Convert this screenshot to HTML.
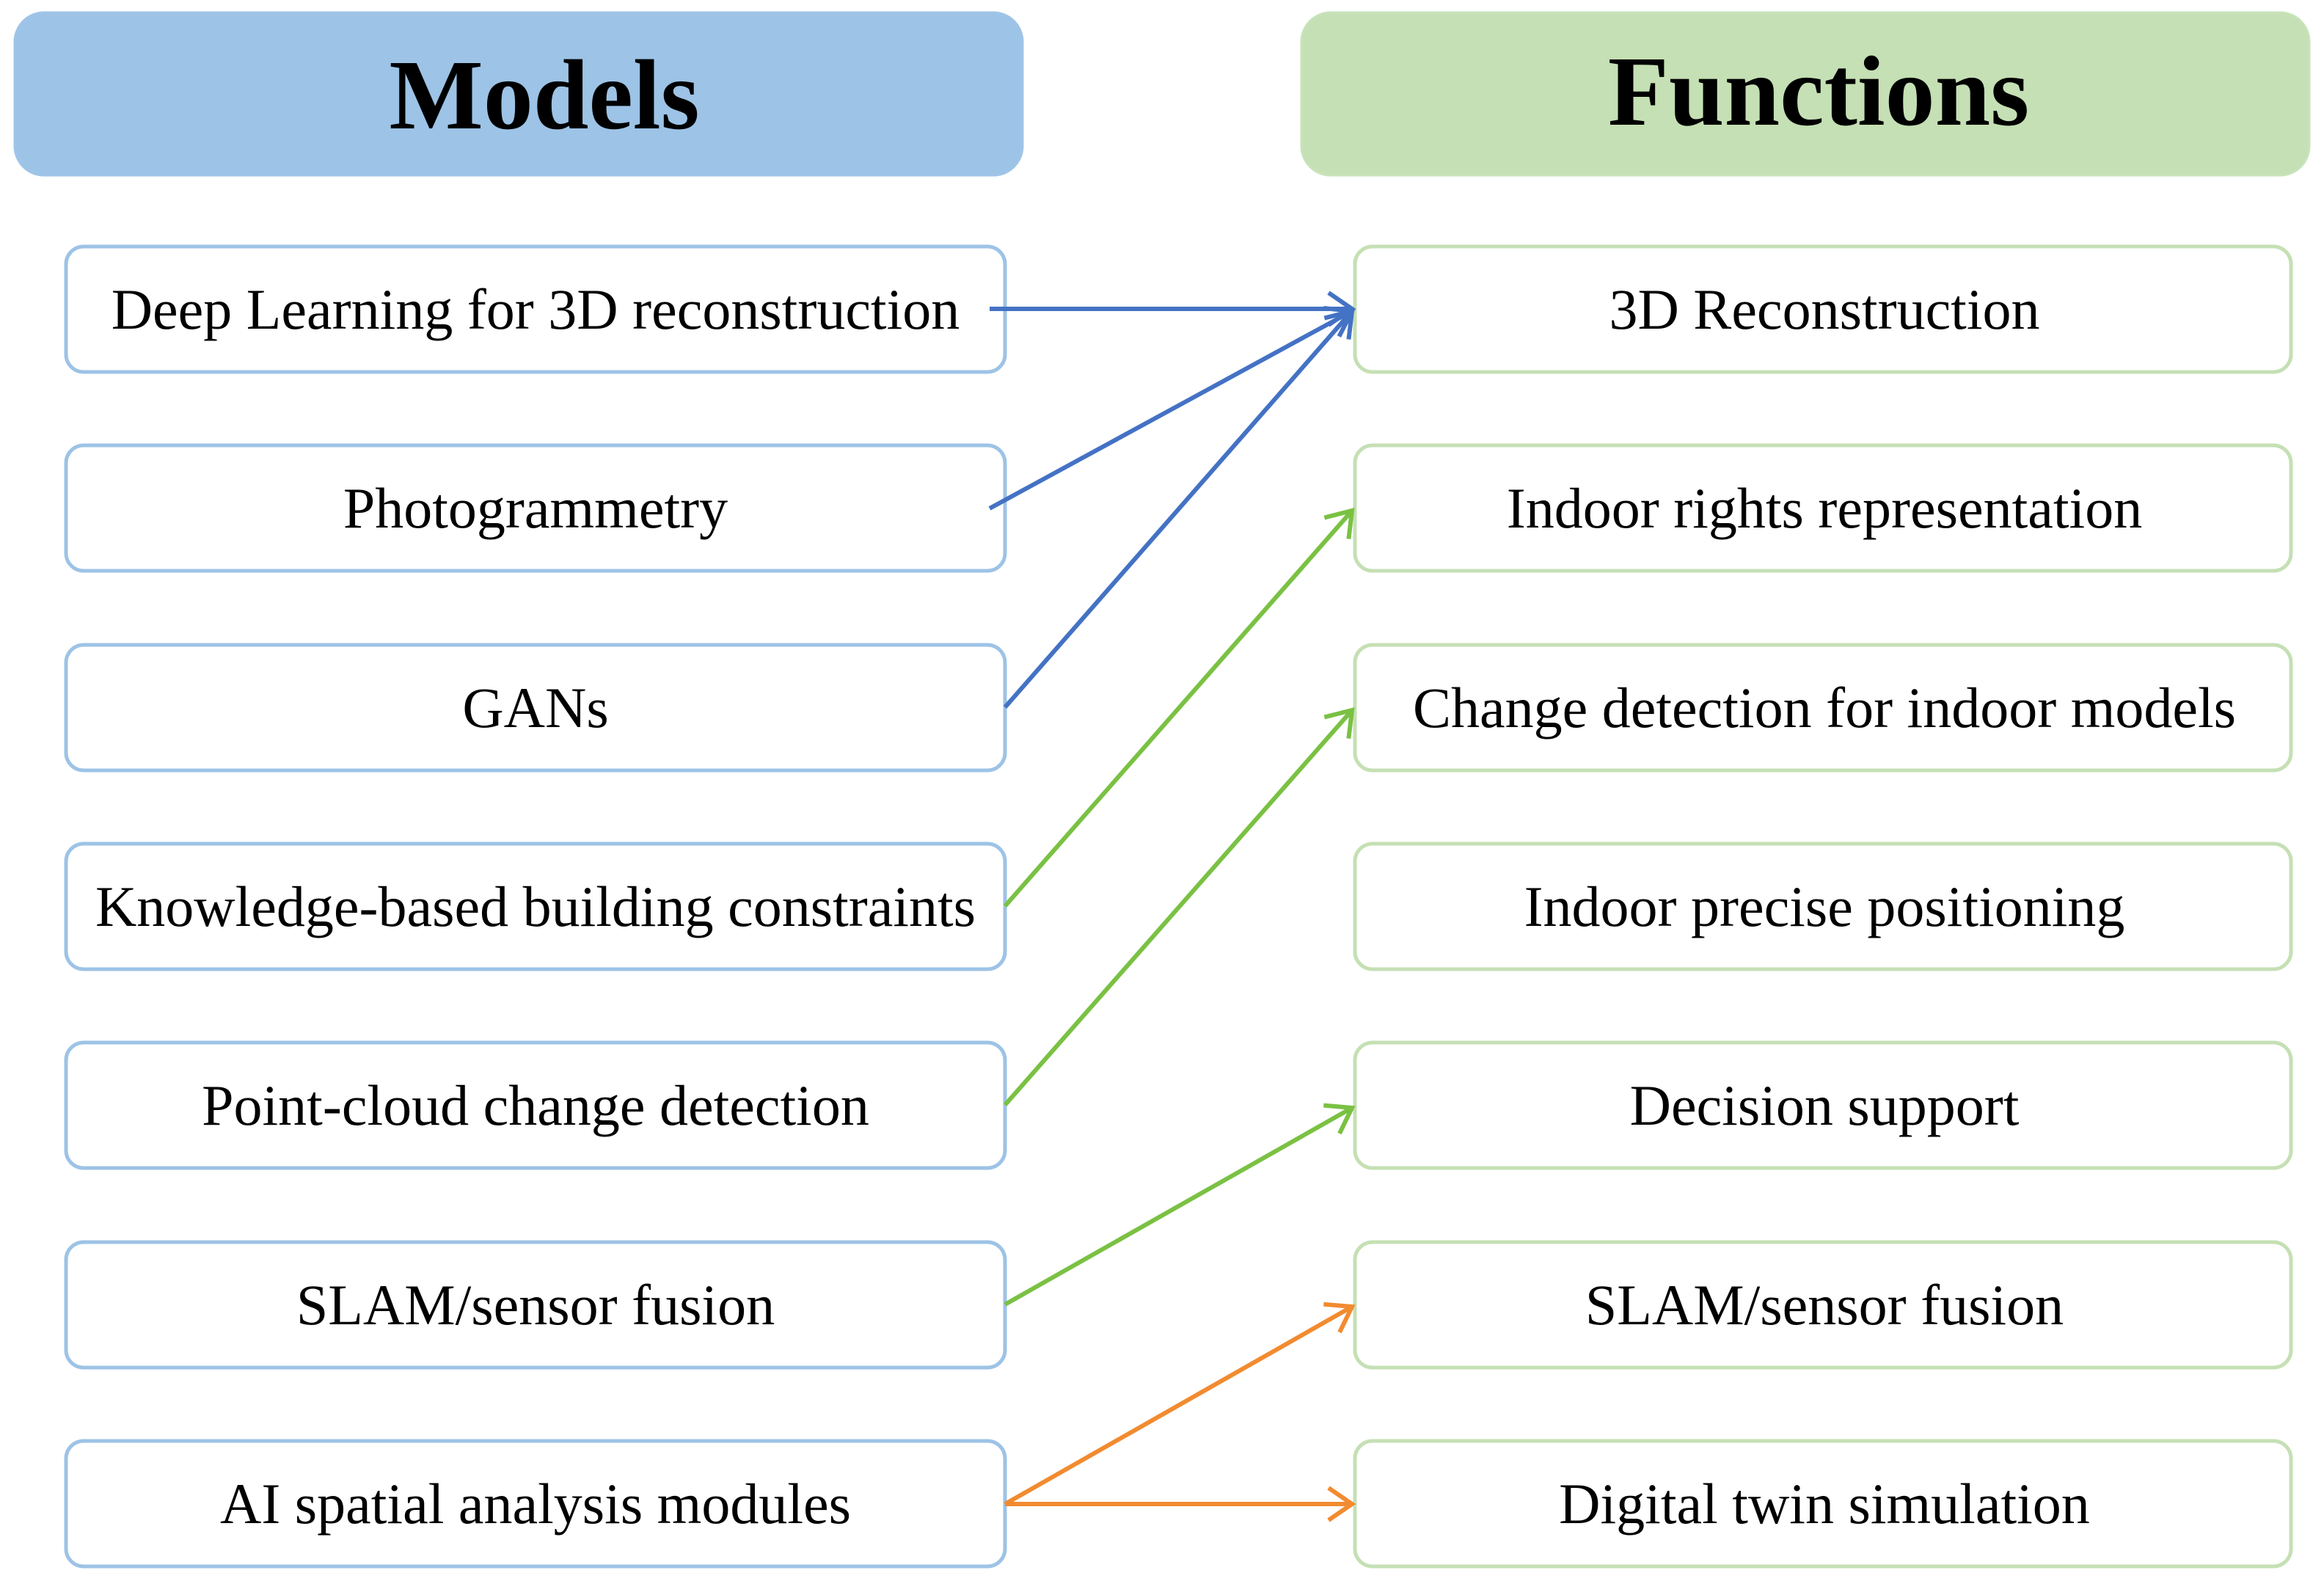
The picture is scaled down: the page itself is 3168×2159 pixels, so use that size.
<!DOCTYPE html>
<html><head><meta charset="utf-8"><style>
html,body{margin:0;padding:0;background:#fff;}
svg{display:block;}
</style></head><body>
<svg width="3168" height="2159" viewBox="0 0 3168 2159" xmlns="http://www.w3.org/2000/svg" font-family="'Liberation Serif', serif">
<defs>
<marker id="ab" markerWidth="12" markerHeight="12" refX="10" refY="6" orient="auto" markerUnits="userSpaceOnUse" viewBox="0 0 12 12" style="overflow:visible"><path d="M-22,-16 L10,6 L-22,28" fill="none" stroke="#4472c4" stroke-width="6"/></marker>
<marker id="ag" markerWidth="12" markerHeight="12" refX="10" refY="6" orient="auto" markerUnits="userSpaceOnUse" viewBox="0 0 12 12" style="overflow:visible"><path d="M-22,-16 L10,6 L-22,28" fill="none" stroke="#7ac143" stroke-width="6"/></marker>
<marker id="ao" markerWidth="12" markerHeight="12" refX="10" refY="6" orient="auto" markerUnits="userSpaceOnUse" viewBox="0 0 12 12" style="overflow:visible"><path d="M-22,-16 L10,6 L-22,28" fill="none" stroke="#f28b30" stroke-width="6"/></marker>
</defs>
<rect x="20" y="17" width="1374" height="222" rx="40" fill="#9dc3e6" stroke="#9fc4e8" stroke-width="3"/>
<text x="742" y="175" text-anchor="middle" font-size="136" font-weight="bold">Models</text>
<rect x="1774" y="17" width="1374" height="222" rx="40" fill="#c5e0b4" stroke="#c8e3b8" stroke-width="3"/>
<text x="2479" y="170" text-anchor="middle" font-size="136" font-weight="bold">Functions</text>
<g fill="#fff" stroke="#9dc3e6" stroke-width="5">
<rect x="90" y="336" width="1280" height="171" rx="24"/>
<rect x="90" y="607" width="1280" height="171" rx="24"/>
<rect x="90" y="879" width="1280" height="171" rx="24"/>
<rect x="90" y="1150" width="1280" height="171" rx="24"/>
<rect x="90" y="1421" width="1280" height="171" rx="24"/>
<rect x="90" y="1693" width="1280" height="171" rx="24"/>
<rect x="90" y="1964" width="1280" height="171" rx="24"/>
</g>
<g fill="#fff" stroke="#c5e0b4" stroke-width="5">
<rect x="1847" y="336" width="1276" height="171" rx="24"/>
<rect x="1847" y="607" width="1276" height="171" rx="24"/>
<rect x="1847" y="879" width="1276" height="171" rx="24"/>
<rect x="1847" y="1150" width="1276" height="171" rx="24"/>
<rect x="1847" y="1421" width="1276" height="171" rx="24"/>
<rect x="1847" y="1693" width="1276" height="171" rx="24"/>
<rect x="1847" y="1964" width="1276" height="171" rx="24"/>
</g>
<g font-size="78" text-anchor="middle" fill="#000">
<text x="730" y="448">Deep Learning for 3D reconstruction</text>
<text x="730" y="719">Photogrammetry</text>
<text x="730" y="991">GANs</text>
<text x="730" y="1262">Knowledge-based building constraints</text>
<text x="730" y="1533">Point-cloud change detection</text>
<text x="730" y="1805">SLAM/sensor fusion</text>
<text x="730" y="2076">AI spatial analysis modules</text>
<text x="2487" y="448">3D Reconstruction</text>
<text x="2487" y="719">Indoor rights representation</text>
<text x="2487" y="991">Change detection for indoor models</text>
<text x="2487" y="1262">Indoor precise positioning</text>
<text x="2487" y="1533">Decision support</text>
<text x="2487" y="1805">SLAM/sensor fusion</text>
<text x="2487" y="2076">Digital twin simulation</text>
</g>
<g fill="none" stroke-width="6">
<line x1="1349" y1="421" x2="1843" y2="421" stroke="#4472c4" marker-end="url(#ab)"/>
<line x1="1349" y1="693" x2="1843" y2="424" stroke="#4472c4" marker-end="url(#ab)"/>
<line x1="1370" y1="964" x2="1843" y2="424" stroke="#4472c4" marker-end="url(#ab)"/>
<line x1="1370" y1="1235" x2="1843" y2="696" stroke="#7ac143" marker-end="url(#ag)"/>
<line x1="1370" y1="1506" x2="1843" y2="968" stroke="#7ac143" marker-end="url(#ag)"/>
<line x1="1370" y1="1778" x2="1843" y2="1510" stroke="#7ac143" marker-end="url(#ag)"/>
<line x1="1370" y1="2050" x2="1843" y2="1781" stroke="#f28b30" marker-end="url(#ao)"/>
<line x1="1370" y1="2050" x2="1843" y2="2050" stroke="#f28b30" marker-end="url(#ao)"/>
</g>
</svg>
</body></html>
